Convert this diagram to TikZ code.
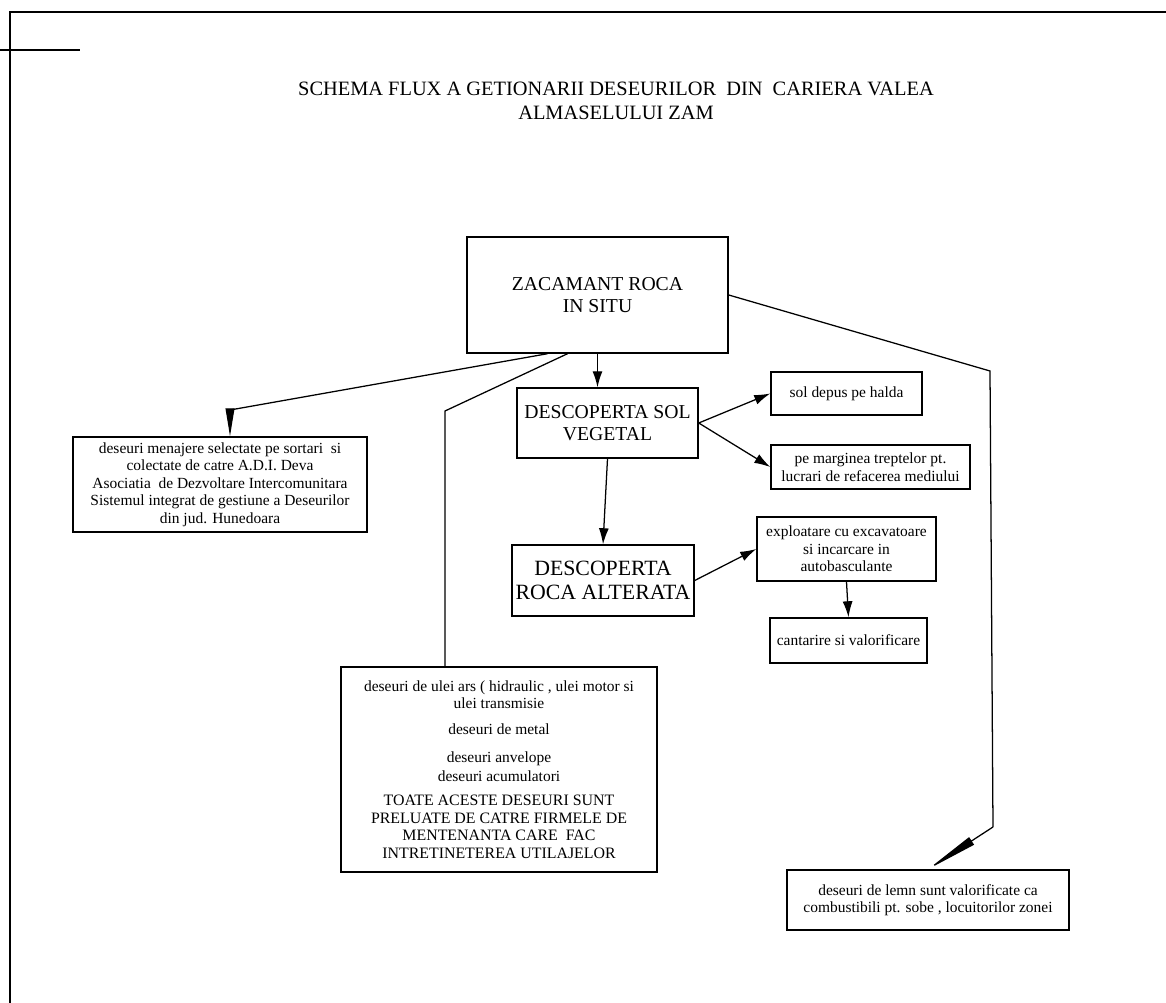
\documentclass[tikz,border=0pt]{standalone}
\usepackage{fontspec}
\setmainfont{Liberation Serif}
\usepackage{tikz}
\usetikzlibrary{positioning, calc, arrows.meta}

\begin{document}
\begin{tikzpicture}[x=0.025cm, y=-0.025cm,
    box/.style={draw, line width=1pt, rectangle, align=center, inner sep=0pt},
    bigtxt/.style={font=\fontsize{14}{16}\selectfont},
    smalltxt/.style={font=\fontsize{11}{12.5}\selectfont},
    capstxt/.style={font=\fontsize{11}{12.5}\selectfont},
    flow/.style={line width=0.9pt, -{Latex[length=0.4cm, width=0.25cm]}},
    wedge/.style={line width=0.9pt, -{Triangle[length=0.7cm, width=0.22cm]}},
    link/.style={line width=0.9pt}]
  \useasboundingbox (0,0) rectangle (1166,1003);

  % page frame
  \draw[line width=1.2pt] (1166,12) -- (10,12) -- (10,1003);
  \draw[line width=1.2pt] (0,50) -- (80,50);

  % title
  \node[align=center, font=\fontsize{14.5}{17.5}\selectfont] (title) at (616,101)
    {SCHEMA FLUX A GETIONARII DESEURILOR \ DIN \ CARIERA VALEA\\ALMASELULUI ZAM};

  % main column
  \node[box, bigtxt, minimum width=6.525cm, minimum height=2.9cm] (zac) at (597.5,295) {ZACAMANT ROCA\\IN SITU};
  \node[box, bigtxt, minimum width=4.525cm, minimum height=1.75cm] (veg) at (607.5,423) {DESCOPERTA SOL\\VEGETAL};
  \node[box, font=\fontsize{15.5}{17}\selectfont, minimum width=4.55cm, minimum height=1.775cm] (alt) at (603,580.5) {DESCOPERTA\\ROCA ALTERATA};

  % right column
  \node[box, smalltxt, minimum width=3.775cm, minimum height=1.075cm] (halda) at (846.5,393.5) {sol depus pe halda};
  \node[box, smalltxt, minimum width=4.975cm, minimum height=1.1cm] (trepte) at (870.5,467) {pe marginea treptelor pt.\\lucrari de refacerea mediului};
  \node[box, smalltxt, minimum width=4.475cm, minimum height=1.6cm] (excav) at (846.5,549) {exploatare cu excavatoare\\si incarcare in\\autobasculante};
  \node[box, smalltxt, minimum width=3.925cm, minimum height=1.125cm] (cant) at (848.5,640.5) {cantarire si valorificare};

  % waste boxes
  \node[box, smalltxt, minimum width=7.35cm, minimum height=2.375cm] (menaj) at (220,484.5)
    {deseuri menajere selectate pe sortari \ si\\colectate de catre A.D.I. Deva\\Asociatia \ de Dezvoltare Intercomunitara\\Sistemul integrat de gestiune a Deseurilor\\din jud. Hunedoara};
  \node[box, smalltxt, minimum width=7.9cm, minimum height=5.125cm] (ulei) at (499,769.5)
    {deseuri de ulei ars ( hidraulic , ulei motor si\\ulei transmisie\\[6pt]
     deseuri de metal\\[7pt]
     deseuri anvelope\\[1pt]deseuri acumulatori\\[5pt]
     {\fontsize{11.3}{12.5}\selectfont TOATE ACESTE DESEURI SUNT}\\
     {\fontsize{11.3}{12.5}\selectfont PRELUATE DE CATRE FIRMELE DE}\\
     {\fontsize{11.3}{12.5}\selectfont MENTENANTA CARE \ FAC}\\
     {\fontsize{11.3}{12.5}\selectfont INTRETINETEREA UTILAJELOR}};
  \node[box, smalltxt, minimum width=7.05cm, minimum height=1.5cm] (lemn) at (928,900)
    {deseuri de lemn sunt valorificate ca\\combustibili pt. sobe , locuitorilor zonei};

  % bends
  \coordinate (b1) at (230,410);
  \coordinate (b2) at (445,411);
  \coordinate (b3) at (990,371);
  \coordinate (b4) at (993,827);

  % flows
  \draw[flow] (zac.south) -- (zac.south |- veg.north);
  \draw[flow] (veg.south) -- (alt.north);
  \draw[flow] (veg.east) -- (halda.west);
  \draw[flow] (veg.east) -- (trepte.west);
  \draw[flow] (alt.east) -- (excav.west);
  \draw[flow] (excav.south) -- (cant.north);

  % waste routes
  \draw[link] ($(zac.south)+(-50,0)$) -- (b1);
  \draw[wedge] (b1) -- (b1 |- menaj.north);
  \draw[link] ($(zac.south)+(-30,0)$) -- (b2) -- (b2 |- ulei.north);
  \draw[link] (zac.east) -- (b3) -- (b4);
  \draw[line width=0.9pt, -{Triangle[length=1.3cm, width=0.22cm]}] (b4) -- (lemn.north);
\end{tikzpicture}
\end{document}
